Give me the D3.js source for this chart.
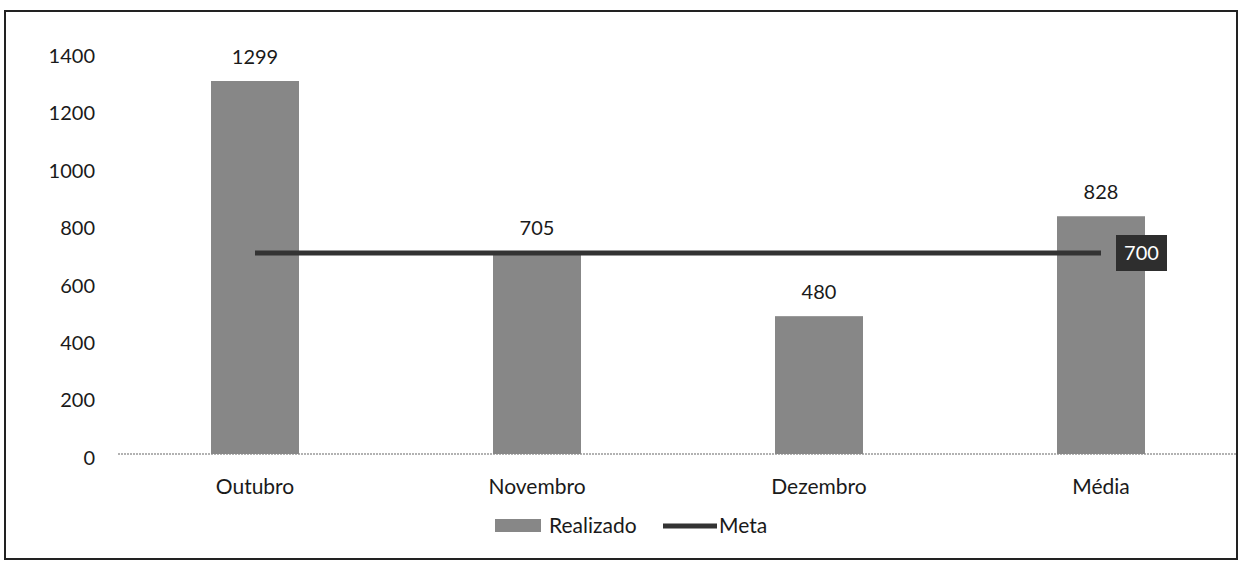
<!DOCTYPE html>
<html>
<head>
<meta charset="utf-8">
<script src="https://cdn.jsdelivr.net/npm/d3@7"></script>
<style>
  body { margin: 0; background: #fff; }
  text { font-family: Lato, "Open Sans", sans-serif; fill: #1a1a1a; }
</style>
</head>
<body>
<script>
// data
var meses = ["Outubro", "Novembro", "Dezembro", "Média"];
var realizado = [1299, 705, 480, 828];
var meta = [700, 700, 700, 700];
var yTicks = [0, 200, 400, 600, 800, 1000, 1200, 1400];

var w = 1239, h = 564;
var x = d3.scaleBand().domain(meses).range([114, 1242]).padding(0);
var y = d3.scaleLinear().domain([0, 1400]).range([454, 52]);
var barW = 88;

const svg = d3.select("body").append("svg").attr("width", w).attr("height", h);

// frame
svg.append("rect").attr("x", 5).attr("y", 11).attr("width", 1232).attr("height", 548)
  .attr("fill", "#fff").attr("stroke", "#222").attr("stroke-width", 2);

// y axis (labels only)
var yAxis = d3.axisLeft(y).tickValues(yTicks).tickSize(0).tickPadding(0).tickFormat(d3.format("d"));
var gy = svg.append("g").attr("transform", "translate(95,4)").call(yAxis);
gy.select(".domain").remove();
gy.selectAll("text").style("font-size", "20px").attr("fill", "#1a1a1a").style("font-family", "Lato, sans-serif");

// x axis
var xAxis = d3.axisBottom(x).tickSize(0).tickPadding(25);
var gx = svg.append("g").attr("transform", "translate(0," + y(0) + ")").call(xAxis);
gx.select(".domain").attr("d", "M118,0H1236").attr("stroke", "#999").attr("stroke-width", 1.5)
  .attr("stroke-dasharray", "2,1");
gx.selectAll("text").style("font-size", "21px").attr("fill", "#1a1a1a").style("font-family", "Lato, sans-serif");

// bars
svg.selectAll("rect.bar").data(realizado).enter().append("rect").attr("class", "bar")
  .attr("x", function(d, i){ return x(meses[i]) + x.bandwidth()/2 - barW/2; })
  .attr("y", function(d){ return y(d); })
  .attr("width", barW)
  .attr("height", function(d){ return y(0) - y(d); })
  .attr("fill", "#878787");

// bar labels
svg.selectAll("text.val").data(realizado).enter().append("text").attr("class", "val")
  .attr("x", function(d, i){ return x(meses[i]) + x.bandwidth()/2; })
  .attr("y", function(d){ return y(d) - 17; })
  .attr("text-anchor", "middle").style("font-size", "20px")
  .text(function(d){ return d; });

// meta line
var line = d3.line()
  .x(function(d, i){ return x(meses[i]) + x.bandwidth()/2; })
  .y(function(d){ return y(d); });
svg.append("path").datum(meta).attr("d", line)
  .attr("fill", "none").attr("stroke", "#333").attr("stroke-width", 5);

// meta label on last point
var lastX = x(meses[3]) + x.bandwidth()/2;
svg.append("rect").attr("x", lastX + 15).attr("y", y(meta[3]) - 18).attr("width", 51).attr("height", 36)
  .attr("fill", "#2e2e2e");
svg.append("text").attr("x", lastX + 40.5).attr("y", y(meta[3]) + 7).attr("text-anchor", "middle")
  .style("font-size", "20px").style("fill", "#fff").text(meta[3]);

// legend
var lg = svg.append("g").attr("transform", "translate(495,526)");
lg.append("rect").attr("x", 0).attr("y", -7).attr("width", 46).attr("height", 13).attr("fill", "#878787");
lg.append("text").attr("x", 54).attr("y", 7).style("font-size", "21px").text("Realizado");
lg.append("line").attr("x1", 168).attr("x2", 222).attr("y1", 0).attr("y2", 0)
  .attr("stroke", "#333").attr("stroke-width", 5);
lg.append("text").attr("x", 224).attr("y", 7).style("font-size", "21px").text("Meta");
</script>
</body>
</html>
